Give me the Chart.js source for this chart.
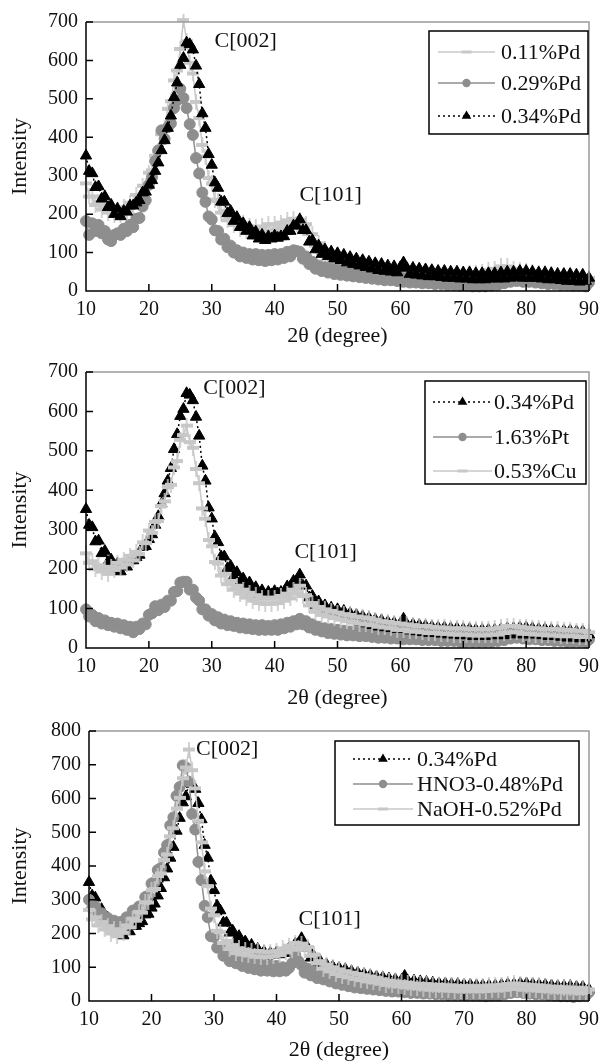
<!DOCTYPE html>
<html>
<head>
<meta charset="utf-8">
<script src="https://cdn.jsdelivr.net/npm/chart.js@4.4.0/dist/chart.umd.min.js"></script>
<style>
  body { margin: 0; background: #fff; width: 606px; height: 1063px; overflow: hidden; }
  canvas { display: block; }
</style>
</head>
<body>
<canvas id="xrd1" width="606" height="349"></canvas>
<canvas id="xrd2" width="606" height="362"></canvas>
<canvas id="xrd3" width="606" height="352"></canvas>
<script>
// 2theta positions (degree)
const angles = [
  10,10.5,11,11.5,12,12.5,13,13.5,14,14.5,
  15,15.5,16,16.5,17,17.5,18,18.5,19,19.5,
  20,20.5,21,21.5,22,22.5,23,23.5,24,24.5,
  25,25.5,26,26.5,27,27.5,28,28.5,29,29.5,
  30,30.5,31,31.5,32,32.5,33,33.5,34,34.5,
  35,35.5,36,36.5,37,37.5,38,38.5,39,39.5,
  40,40.5,41,41.5,42,42.5,43,43.5,44,44.5,
  45,45.5,46,46.5,47,47.5,48,48.5,49,49.5,
  50,50.5,51,51.5,52,52.5,53,53.5,54,54.5,
  55,55.5,56,56.5,57,57.5,58,58.5,59,59.5,
  60,60.5,61,61.5,62,62.5,63,63.5,64,64.5,
  65,65.5,66,66.5,67,67.5,68,68.5,69,69.5,
  70,70.5,71,71.5,72,72.5,73,73.5,74,74.5,
  75,75.5,76,76.5,77,77.5,78,78.5,79,79.5,
  80,80.5,81,81.5,82,82.5,83,83.5,84,84.5,
  85,85.5,86,86.5,87,87.5,88,88.5,89,89.5,
  90
];

// intensities
const pd034 = [
  352,312,306,270,272,240,246,218,224,200,
  214,194,208,206,222,222,230,236,256,258,
  276,288,312,334,366,392,424,456,504,542,
  588,606,646,642,628,586,538,462,424,356,
  328,282,268,232,232,202,208,182,192,166,
  176,156,166,144,154,136,146,132,142,136,
  144,138,142,142,156,156,170,170,186,158,
  158,128,132,108,118,96,108,90,102,84,
  98,80,94,74,88,70,84,66,80,62,
  76,58,72,54,70,52,66,50,64,48,
  62,74,60,44,60,42,58,40,56,38,
  54,38,52,36,52,34,50,34,50,32,
  48,32,48,30,46,30,46,30,46,32,
  46,32,48,32,50,34,50,36,52,34,
  52,34,50,34,48,32,48,30,46,30,
  44,28,44,26,44,26,42,24,42,26,
  34
];
const pd011 = [
  280,246,246,224,232,212,222,204,216,198,
  212,198,218,208,230,222,250,242,274,272,
  308,314,352,364,408,424,474,494,548,574,
  630,705,650,594,566,492,450,380,350,294,
  280,238,234,204,208,184,194,172,184,162,
  176,156,168,154,166,152,168,156,174,156,
  174,160,178,166,184,170,188,174,186,164,
  174,148,148,118,124,98,108,88,100,80,
  94,74,88,70,84,64,78,60,74,56,
  70,52,66,48,64,46,60,44,58,42,
  56,40,54,38,52,36,50,34,50,32,
  48,32,46,30,46,30,44,28,44,28,
  44,28,46,30,48,32,50,36,54,40,
  58,44,64,50,64,44,58,40,54,36,
  52,34,50,34,48,32,46,30,44,28,
  42,26,40,26,40,24,38,22,36,20,
  34
];
const pd029 = [
  182,146,176,156,172,150,156,134,130,146,
  150,146,162,156,172,166,188,190,220,236,
  276,296,338,366,418,396,426,436,476,496,
  526,502,476,434,406,346,306,256,232,194,
  186,158,156,134,136,114,118,100,106,90,
  100,86,96,82,96,80,94,78,94,80,
  96,82,96,86,102,90,106,104,102,84,
  90,70,76,58,66,52,62,48,58,44,
  56,42,54,40,52,38,50,36,48,34,
  46,32,44,30,42,28,40,28,38,26,
  36,24,34,22,34,22,32,20,30,20,
  30,18,28,18,28,16,26,16,26,14,
  26,14,24,12,24,12,22,12,24,14,
  26,16,30,20,34,24,36,26,38,24,
  36,24,34,22,32,20,30,18,28,18,
  28,16,26,16,26,14,24,14,24,12,
  22
];
const pt163 = [
  98,80,84,68,76,62,70,58,64,54,
  62,50,58,46,54,40,54,48,62,60,
  84,88,106,96,110,104,120,120,142,144,
  166,168,168,148,148,128,120,98,98,82,
  86,70,78,62,72,58,68,56,64,52,
  62,50,60,48,58,46,58,46,56,46,
  58,46,60,50,64,54,68,60,74,60,
  68,52,60,46,54,42,50,38,48,36,
  46,34,44,32,42,32,42,30,40,30,
  38,28,38,26,36,26,36,24,34,24,
  34,22,32,22,32,22,30,20,30,20,
  30,20,28,18,28,18,28,18,26,16,
  26,16,26,16,26,16,26,16,26,16,
  28,18,30,20,34,24,36,26,34,24,
  34,22,34,22,32,20,30,20,30,18,
  28,18,28,16,26,16,26,16,24,14,
  22
];
const cu053 = [
  240,216,220,200,210,194,204,188,206,198,
  216,204,224,212,234,222,244,238,268,266,
  298,292,320,322,360,372,408,414,458,474,
  528,540,564,522,508,454,418,354,328,274,
  258,218,214,184,188,162,170,148,158,138,
  148,128,140,120,134,114,128,112,126,112,
  128,114,132,120,138,126,148,138,158,132,
  134,108,114,92,104,84,98,80,94,76,
  90,72,86,68,84,66,80,62,78,60,
  76,58,72,54,68,52,66,50,64,46,
  62,46,60,42,58,42,56,40,56,38,
  54,38,52,36,52,36,50,34,50,34,
  50,34,48,32,48,32,48,32,48,34,
  50,34,52,38,56,40,56,40,54,36,
  52,36,50,34,50,34,48,32,48,32,
  48,30,46,30,46,30,44,28,44,28,
  40
];
const hno3 = [
  300,274,280,254,260,236,246,224,238,218,
  234,224,248,242,268,258,280,278,308,312,
  348,352,388,394,440,462,520,544,608,634,
  698,692,650,554,508,412,358,282,248,192,
  190,158,160,134,142,118,132,112,124,104,
  118,98,114,94,110,90,108,90,106,88,
  104,88,100,90,98,112,136,118,106,84,
  96,76,88,68,80,64,74,58,68,52,
  64,48,60,44,56,40,54,38,52,36,
  50,34,48,32,46,30,44,28,42,28,
  42,26,40,24,38,24,38,22,36,22,
  36,20,34,20,34,18,34,18,32,18,
  32,16,32,16,30,16,30,14,30,16,
  30,16,34,20,38,24,40,26,38,24,
  38,22,36,20,34,20,32,18,30,16,
  28,14,28,14,26,12,26,14,28,16,
  26
];
const naoh = [
  270,242,248,224,234,212,222,200,212,192,
  212,202,224,218,244,238,264,262,292,292,
  328,332,370,378,418,434,488,512,570,602,
  660,692,745,684,630,534,470,384,340,274,
  254,208,204,172,178,154,164,142,156,138,
  152,136,148,132,148,130,146,130,146,132,
  148,136,156,144,164,152,172,158,170,152,
  160,134,138,112,118,96,108,88,100,80,
  94,74,88,70,84,66,80,62,76,58,
  72,56,68,52,64,48,60,46,58,44,
  56,42,54,40,52,38,50,36,50,34,
  48,34,48,32,46,32,46,30,44,30,
  44,30,44,30,44,30,44,30,46,32,
  46,32,48,34,50,36,52,36,50,34,
  48,34,46,32,46,30,44,30,42,28,
  42,28,40,26,40,26,38,24,38,24,
  34
];

// peak labels: [text, 2theta, intensity]
const notes1 = [['C[002]', 35.4, 651], ['C[101]', 48.9, 250]];
const notes2 = [['C[002]', 33.6, 658], ['C[101]', 48.1, 243]];
const notes3 = [['C[002]', 32.1, 746], ['C[101]', 48.5, 243]];

const serif = "'Liberation Serif', 'Times New Roman', Times, serif";
const BLACK = '#000000';
const GRAY = '#8e8e8e';
const LIGHT = '#c8c8c8';

function errMark(color) {
  const c = document.createElement('canvas');
  c.width = 12; c.height = 16;
  const g = c.getContext('2d');
  g.fillStyle = color;
  g.fillRect(0, 6, 12, 4);
  g.fillRect(5.2, 0, 1.6, 16);
  return c;
}

const styles = {
  black: { fill: BLACK, line: BLACK, dash: [2, 3], point: 'triangle', radius: 6.5 },
  gray: { fill: GRAY, line: GRAY, dash: [], point: 'circle', radius: 5.5 },
  light: { fill: LIGHT, line: LIGHT, dash: [], point: errMark(LIGHT), radius: 6 }
};

function series(label, values, st, order) {
  return {
    label: label,
    order: order,
    data: values.map((v, i) => ({ x: angles[i], y: v })),
    showLine: true,
    borderColor: st.line,
    borderWidth: 1.5,
    borderDash: st.dash,
    pointStyle: st.point,
    pointRadius: st.radius,
    pointBackgroundColor: st.fill,
    pointBorderColor: st.fill,
    pointBorderWidth: 1,
    tension: 0,
    clip: 8
  };
}

// axis lines, grey frame and inward ticks
const frame = {
  id: 'frame',
  afterDatasetsDraw(chart) {
    const { ctx, chartArea: a, scales: { x, y } } = chart;
    ctx.save();
    ctx.lineWidth = 1.5;
    ctx.strokeStyle = '#9a9a9a';
    ctx.beginPath();
    ctx.moveTo(a.left, a.top); ctx.lineTo(a.right, a.top); ctx.lineTo(a.right, a.bottom);
    ctx.stroke();
    ctx.strokeStyle = '#000';
    ctx.beginPath();
    ctx.moveTo(a.left, a.top); ctx.lineTo(a.left, a.bottom); ctx.lineTo(a.right, a.bottom);
    x.ticks.forEach(t => {
      const px = x.getPixelForValue(t.value);
      ctx.moveTo(px, a.bottom); ctx.lineTo(px, a.bottom - 7);
    });
    y.ticks.forEach(t => {
      const py = y.getPixelForValue(t.value);
      ctx.moveTo(a.left, py); ctx.lineTo(a.left + 7, py);
    });
    ctx.stroke();
    ctx.restore();
  }
};

function drawMarker(ctx, st, x, y) {
  ctx.fillStyle = st.fill;
  if (st.point === 'triangle') {
    ctx.beginPath();
    ctx.moveTo(x, y - 5.5); ctx.lineTo(x + 4.8, y + 2.8); ctx.lineTo(x - 4.8, y + 2.8);
    ctx.closePath(); ctx.fill();
  } else if (st.point === 'circle') {
    ctx.beginPath(); ctx.arc(x, y, 4.2, 0, Math.PI * 2); ctx.fill();
  } else {
    ctx.fillRect(x - 5, y - 1.5, 10, 3);
  }
}

function boxLegend(cfg) {
  return {
    id: 'boxLegend',
    afterDraw(chart) {
      const { ctx, chartArea: a } = chart;
      const bx = a.right - cfg.right - cfg.w, by = a.top + cfg.top;
      ctx.save();
      ctx.fillStyle = '#fff';
      ctx.fillRect(bx, by, cfg.w, cfg.h);
      ctx.strokeStyle = '#000'; ctx.lineWidth = 1.5;
      ctx.strokeRect(bx, by, cfg.w, cfg.h);
      ctx.font = '22px ' + serif;
      ctx.textBaseline = 'middle';
      cfg.items.forEach((it, i) => {
        const yy = by + cfg.rows[i];
        const st = styles[it[1]];
        ctx.strokeStyle = st.line; ctx.lineWidth = 1.5;
        ctx.setLineDash(st.dash);
        ctx.beginPath(); ctx.moveTo(bx + cfg.s0, yy); ctx.lineTo(bx + cfg.s1, yy); ctx.stroke();
        ctx.setLineDash([]);
        drawMarker(ctx, st, bx + (cfg.s0 + cfg.s1) / 2, yy);
        ctx.fillStyle = '#111';
        ctx.fillText(it[0], bx + cfg.tx, yy + 1);
      });
      ctx.restore();
    }
  };
}

function peakNotes(notes) {
  return {
    id: 'peakNotes',
    afterDraw(chart) {
      const { ctx, scales: { x, y } } = chart;
      ctx.save();
      ctx.font = '22px ' + serif;
      ctx.fillStyle = '#111';
      ctx.textAlign = 'center';
      ctx.textBaseline = 'middle';
      notes.forEach(n => ctx.fillText(n[0], x.getPixelForValue(n[1]), y.getPixelForValue(n[2])));
      ctx.restore();
    }
  };
}

function makeChart(id, datasets, yMax, area, legend, notes) {
  const tickFont = { family: serif, size: 20 };
  const titleFont = { family: serif, size: 22 };
  return new Chart(document.getElementById(id), {
    type: 'line',
    data: { datasets: datasets },
    options: {
      responsive: false,
      animation: false,
      devicePixelRatio: 1,
      layout: { padding: { top: area.top, right: area.right, left: 0, bottom: 0 } },
      plugins: { legend: { display: false }, tooltip: { enabled: false } },
      scales: {
        x: {
          type: 'linear', min: 10, max: 90,
          ticks: { stepSize: 10, padding: 7, font: tickFont, color: '#111', autoSkip: false, maxRotation: 0 },
          grid: { display: false, drawTicks: false },
          border: { display: false },
          title: { display: true, text: '2θ (degree)', font: titleFont, color: '#111', padding: 0 },
          afterFit(s) { s.height = area.xh; }
        },
        y: {
          min: 0, max: yMax,
          ticks: { stepSize: 100, padding: 8, font: tickFont, color: '#111', autoSkip: false },
          grid: { display: false, drawTicks: false },
          border: { display: false },
          title: { display: true, text: 'Intensity', font: titleFont, color: '#111', padding: { top: 7, bottom: 0 } },
          afterFit(s) { s.width = area.left; }
        }
      }
    },
    plugins: [frame, boxLegend(legend), peakNotes(notes)]
  });
}

makeChart('xrd1', [
  series('0.11%Pd', pd011, styles.light, 2),
  series('0.29%Pd', pd029, styles.gray, 1),
  series('0.34%Pd', pd034, styles.black, 0)
], 700, { top: 22, right: 12, left: 86, xh: 58 }, {
  right: 1, top: 9, w: 159, h: 103, rows: [21, 52, 85], s0: 9, s1: 66, tx: 72,
  items: [['0.11%Pd', 'light'], ['0.29%Pd', 'gray'], ['0.34%Pd', 'black']]
}, notes1);

makeChart('xrd2', [
  series('0.34%Pd', pd034, styles.black, 1),
  series('1.63%Pt', pt163, styles.gray, 2),
  series('0.53%Cu', cu053, styles.light, 0)
], 700, { top: 23, right: 12, left: 86, xh: 63 }, {
  right: 3, top: 9, w: 161, h: 103, rows: [21, 56, 90], s0: 8, s1: 67, tx: 69,
  items: [['0.34%Pd', 'black'], ['1.63%Pt', 'gray'], ['0.53%Cu', 'light']]
}, notes2);

makeChart('xrd3', [
  series('0.34%Pd', pd034, styles.black, 2),
  series('HNO3-0.48%Pd', hno3, styles.gray, 1),
  series('NaOH-0.52%Pd', naoh, styles.light, 0)
], 800, { top: 18, right: 13, left: 89, xh: 62 }, {
  right: 10, top: 10, w: 244, h: 84, rows: [18, 43, 68], s0: 18, s1: 78, tx: 82,
  items: [['0.34%Pd', 'black'], ['HNO3-0.48%Pd', 'gray'], ['NaOH-0.52%Pd', 'light']]
}, notes3);
</script>
</body>
</html>
